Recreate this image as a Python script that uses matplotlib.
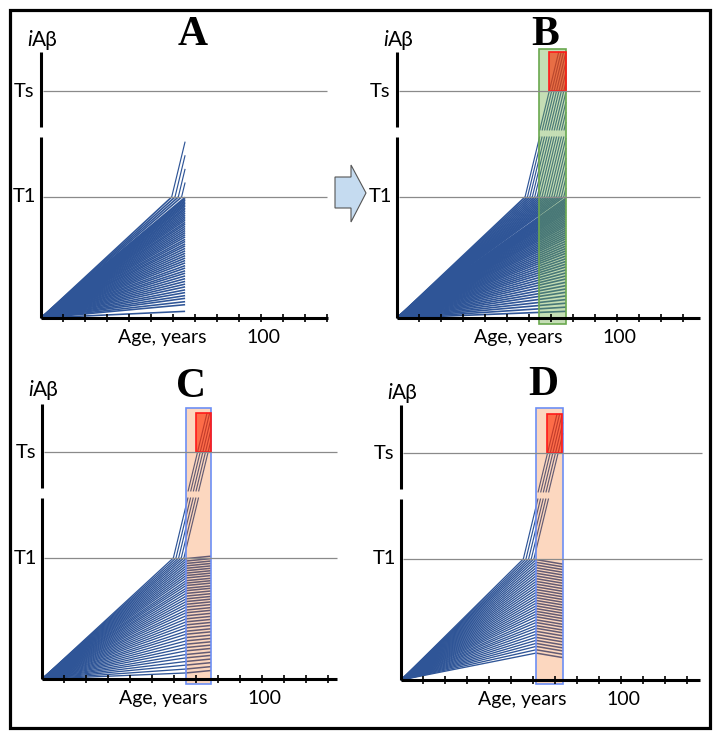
import matplotlib
matplotlib.use("Agg")
import matplotlib.pyplot as plt
from matplotlib.collections import LineCollection
from matplotlib.colors import to_rgba
from matplotlib.patches import Rectangle, Polygon

# ---- values (x: age in years, y: iAb level, arbitrary units) ----
T1, TS = 40, 75                 # thresholds
RISE = 3.0                      # slope of a trajectory once it has crossed T1 (units / year)
AGE_TICKS = [10, 20, 30, 40, 50, 60, 70, 80, 90, 100, 110, 120, 130]

# A - untreated population, followed to ~65 years
fan_A_end = 65.5
fan_A = [2.2, 4.4, 5.4, 6.5, 7.4, 8.4, 9.3, 10.3, 11.2, 12.1, 13.0, 13.9, 14.8, 15.6,
         16.5, 17.3, 18.2, 19.0, 19.8, 20.6, 21.4, 22.2, 23.0, 23.8, 24.5, 25.3, 26.0,
         26.8, 27.5, 28.2, 28.9, 29.6, 30.3, 31.0, 31.6, 32.3, 32.9, 33.5, 34.1, 34.7,
         35.3, 35.9, 36.4, 37.0, 37.5, 38.0, 38.5, 39.0, 39.5, 39.9]
cross_A = [59.4, 60.9, 62.4, 63.9]          # ages at which fast lines cross T1

# B - untreated, followed to ~77 years (green window 64.5-77)
fan_B_end = 76.8
fan_B = [2.2, 3.6, 4.9, 6.1, 7.3, 8.5, 9.6, 10.7, 11.8, 12.9, 13.9, 14.9, 15.9, 16.9,
         17.8, 18.7, 19.6, 20.5, 21.4, 22.2, 23.0, 23.8, 24.6, 25.4, 26.2, 26.9, 27.6,
         28.3, 29.0, 29.7, 30.4, 31.0, 31.6, 32.2, 32.8, 33.4, 34.0, 34.6, 35.1, 35.6,
         36.1, 36.6, 37.1, 37.6, 38.1, 38.6, 39.1, 39.6]
cross_B = [58.2, 59.3, 60.4, 61.5, 62.6, 63.7, 64.8, 65.9, 67.0, 68.1, 69.2, 70.3,
           71.4, 72.5, 73.6, 74.7, 75.8]

# C - treated at ~65 years, sub-threshold lines level off
fan_C_end, slow_C_end, drift_C = 65.5, 76.8, 0.8
fan_C = [2.0, 3.3, 4.6, 5.8, 7.0, 8.1, 9.3, 10.4, 11.5, 12.6, 13.7, 14.8, 15.8, 16.9,
         17.9, 18.9, 19.9, 20.9, 21.9, 22.8, 23.8, 24.7, 25.6, 26.5, 27.4, 28.3, 29.2,
         30.0, 30.9, 31.7, 32.5, 33.4, 34.2, 35.0, 35.8, 36.6, 37.4, 38.2, 39.0, 39.8]
cross_C = [59.7, 60.9, 62.1, 63.3, 64.5]

# D - treated at ~61 years, sub-threshold lines decline
fan_D_end, slow_D_end, drift_D = 61.4, 73.6, -1.5
fan_D = [8.9, 10.0, 11.1, 12.1, 13.1, 14.1, 15.1, 16.1, 17.1, 18.0, 19.0, 19.9, 20.9,
         21.8, 22.7, 23.6, 24.5, 25.4, 26.3, 27.2, 28.1, 29.0, 29.9, 30.8, 31.7, 32.6,
         33.5, 34.4, 35.3, 36.2, 37.1, 38.0, 38.9, 39.8]
cross_D = [55.6, 56.8, 58.0, 59.2, 60.4]

# ---- styling / layout ----
W, H = 720, 738
PX_X, PX_Y = 2.2, 3.025          # pixels per year, pixels per unit
XLIM, YLIM = (-15, 140), (-12, 100)
BREAK_LO, BREAK_HI = 60, 63      # y-axis break
LINE_SHIFT = 2                   # lines resume this much higher above the break
Y_TOP = 88
BLUE = "#2f5597"
GREEN = "#70ad47"
PEACH = "#f56e14"
RED = "#ff2a00"
SANS = ["Lato", "DejaVu Sans"]


def rise_segments(a, x_end):
    """steep part of a trajectory that crossed T1 at age a, cut at the axis break"""
    x_b = a + (BREAK_LO - T1) / RISE
    x1 = min(x_end, x_b)
    segs = [[(a, T1), (x1, T1 + RISE * (x1 - a))]]
    if x_b < x_end:
        x_top = a + (Y_TOP - LINE_SHIFT - T1) / RISE
        x2 = min(x_end, x_top)
        segs.append([(x_b, BREAK_LO + LINE_SHIFT),
                     (x2, T1 + RISE * (x2 - a) + LINE_SHIFT)])
    return segs


def draw_panel(fig, p):
    ox, oy = p["origin"]
    w = (XLIM[1] - XLIM[0]) * PX_X
    h = (YLIM[1] - YLIM[0]) * PX_Y
    left = ox + XLIM[0] * PX_X
    bottom = H - (oy - YLIM[0] * PX_Y)
    ax = fig.add_axes([left / W, bottom / H, w / W, h / H])
    ax.set_xlim(XLIM); ax.set_ylim(YLIM)
    ax.axis("off")

    fan_end = p["fan_end"]
    segs = [[(0, 0), (fan_end, lv)] for lv in p["fan"]]
    thin = []
    if p.get("slow_end"):
        thin = [[(fan_end, lv), (p["slow_end"], lv + p["drift"])] for lv in p["fan"]]
    line_end = p.get("slow_end") or fan_end
    steep = []
    for a in p["cross"]:
        segs.append([(0, 0), (a, T1)])
        steep += rise_segments(a, line_end)
    ax.add_collection(LineCollection(segs, colors=BLUE, linewidths=p["lw"], zorder=2))
    if thin:
        ax.add_collection(LineCollection(thin, colors=BLUE, linewidths=1.1, zorder=2))
    ax.add_collection(LineCollection(steep, colors=BLUE, linewidths=0.85, zorder=2))

    if p.get("box"):
        x0, y0, x1, y1 = p["box"]
        face, edge = p["box_style"]
        ax.add_patch(Rectangle((x0, y0), x1 - x0, y1 - y0, facecolor=face,
                               edgecolor=edge, lw=1.2, zorder=3))
        rx0, rx1 = p["red"]
        ax.add_patch(Rectangle((rx0, TS), rx1 - rx0, Y_TOP - TS,
                               facecolor=to_rgba(RED, 0.62), edgecolor="#ff1a1a",
                               lw=1.2, zorder=4))

    ax.hlines([T1, TS], 1, p["ref_end"], colors="#8a8a8a", lw=0.9, zorder=5)

    # axes with a break on the y axis
    ax.plot([0, 0], [0, BREAK_LO], color="black", lw=2.2, solid_capstyle="butt", zorder=6)
    ax.plot([0, 0], [BREAK_HI, p["ytop"]], color="black", lw=2.2,
            solid_capstyle="butt", zorder=6)
    ax.plot([0, p["axis_end"]], [0, 0], color="black", lw=2.2,
            solid_capstyle="butt", zorder=6)
    ax.vlines(AGE_TICKS, -1.3, 1.3, colors="black", lw=1.2, zorder=6)

    ax.text(-7.5, TS, "Ts", ha="center", va="center", fontsize=14.5, family=SANS)
    ax.text(-7.5, T1, "T1", ha="center", va="center", fontsize=14.5, family=SANS)
    ax.text(-4.3, p["ylab_y"], "i", ha="right", va="baseline", fontsize=15,
            style="italic", family=SANS)
    ax.text(-4.3, p["ylab_y"], "A\u03b2", ha="left", va="baseline", fontsize=15,
            family=SANS)
    ax.text(55, -8.3, "Age, years", ha="center", va="baseline", fontsize=14, family=SANS)
    ax.text(101, -8.3, "100", ha="center", va="baseline", fontsize=14, family=SANS)
    ax.text(p["title_x"], p["title_y"], p["name"], ha="center", va="baseline",
            fontsize=30, fontweight="bold", family="Liberation Serif")


green_style = (to_rgba(GREEN, 0.4), "#6aa84f")
peach_style = (to_rgba(PEACH, 0.27), "#6d8ff5")

panels = [
    dict(name="A", origin=(41, 318), fan=fan_A, fan_end=fan_A_end, cross=cross_A, lw=1.15,
         axis_end=130.5, ref_end=130, ytop=88, title_x=69, title_y=90.2, ylab_y=89.8),
    dict(name="B", origin=(397, 318), fan=fan_B, fan_end=fan_B_end, cross=cross_B, lw=1.2,
         box=(64.5, -2, 76.8, 89), box_style=green_style, red=(69, 76.8),
         axis_end=137.7, ref_end=137.7, ytop=88, title_x=67.3, title_y=90.2, ylab_y=89.8),
    dict(name="C", origin=(42, 679), fan=fan_C, fan_end=fan_C_end, cross=cross_C, lw=0.95,
         slow_end=slow_C_end, drift=drift_C,
         box=(65.5, -1.7, 76.8, 89.6), box_style=peach_style, red=(70, 76.8),
         axis_end=134, ref_end=134, ytop=91, title_x=67.7, title_y=93.2, ylab_y=93.5),
    dict(name="D", origin=(401, 680), fan=fan_D, fan_end=fan_D_end, cross=cross_D, lw=0.95,
         slow_end=slow_D_end, drift=drift_D,
         box=(61.4, -1.3, 73.6, 89.9), box_style=peach_style, red=(66.4, 73.0),
         axis_end=136, ref_end=137, ytop=91, title_x=64.5, title_y=94.2, ylab_y=92.8),
]

fig = plt.figure(figsize=(W / 100, H / 100), dpi=100)
for p in panels:
    draw_panel(fig, p)

# outer frame
fig.add_artist(Rectangle((10 / W, 1 - 728 / H), 700 / W, 718 / H, transform=fig.transFigure,
                         fill=False, edgecolor="black", lw=2.3))

# block arrow between A and B
arrow_px = [(335, 177), (351, 177), (351, 165), (366, 193), (351, 222),
            (351, 208), (335, 208)]
fig.add_artist(Polygon([(x / W, 1 - y / H) for x, y in arrow_px], closed=True,
                       transform=fig.transFigure, facecolor="#c5dbf0",
                       edgecolor="#555555", lw=0.8))

fig.savefig("out.png", dpi=100)
